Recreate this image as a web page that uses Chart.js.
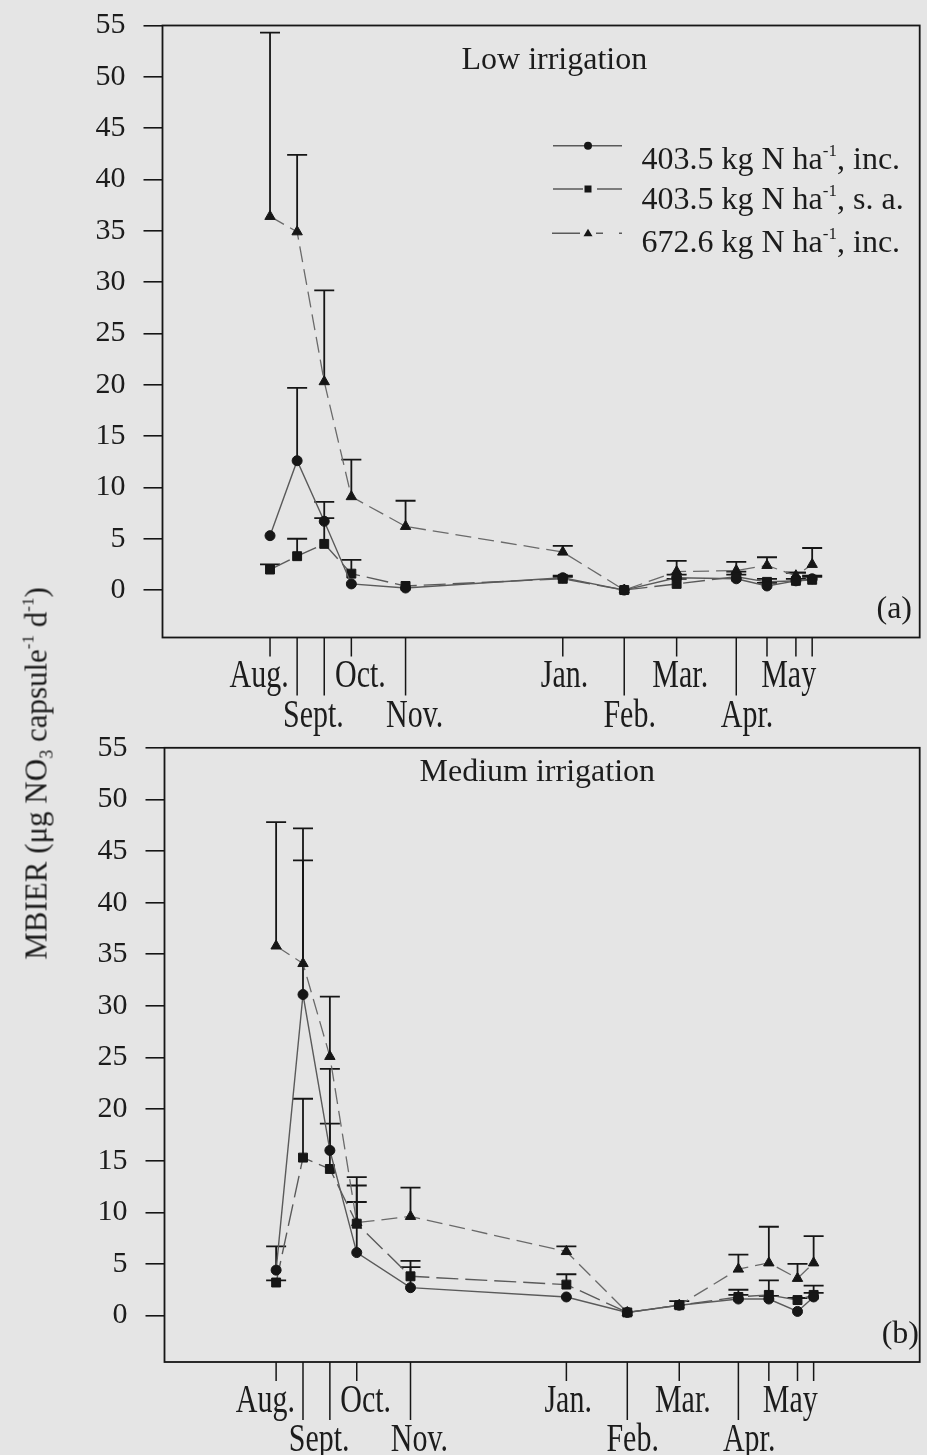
<!DOCTYPE html>
<html>
<head>
<meta charset="utf-8">
<script src="https://cdn.jsdelivr.net/npm/chart.js@4.4.1/dist/chart.umd.min.js"></script>
<style>
  html, body { margin: 0; padding: 0; }
  body { width: 927px; height: 1455px; background: #e5e5e5; overflow: hidden; }
  #page { position: relative; width: 927px; height: 1455px; }
  canvas { position: absolute; left: 0; }
  #low { top: 0; }
  #medium { top: 720px; }
  .txt {
    position: absolute; white-space: nowrap; color: #1c1c1c;
    font-family: "Liberation Serif", serif; font-size: 32px; line-height: 1;
  }
  .txt sup { font-size: 17px; line-height: 0; vertical-align: 13px; }
  .txt sub { font-size: 18px; line-height: 0; vertical-align: -6px; }
  #ytitle {
    left: -164.5px; top: 758px; width: 400px; height: 31px; font-size: 31px;
    text-align: center; transform: rotate(-90deg);
  }
</style>
</head>
<body>
<div id="page">
  <canvas id="low" width="927" height="740"></canvas>
  <canvas id="medium" width="927" height="735"></canvas>

  <div class="txt" style="left:461.5px; top:41.5px">Low irrigation</div>
  <div class="txt" style="left:419.5px; top:754px">Medium irrigation</div>
  <div class="txt" style="right:15px; top:591px">(a)</div>
  <div class="txt" style="right:8px; top:1316px">(b)</div>

  <div class="txt" style="left:641.5px; top:141.5px">403.5 kg N ha<sup>-1</sup>, inc.</div>
  <div class="txt" style="left:641.5px; top:181.5px">403.5 kg N ha<sup>-1</sup>, s. a.</div>
  <div class="txt" style="left:641.5px; top:225px">672.6 kg N ha<sup>-1</sup>, inc.</div>

  <div class="txt" id="ytitle">MBIER (μg NO<sub>3</sub> capsule<sup>-1</sup> d<sup>-1</sup>)</div>
</div>

<script>
// sampling dates, in days after the first August sampling
const sampleDays = [0, 15, 30, 45, 75, 162, 196, 225, 258, 275, 291, 300];
const longTicks = [false, true, true, false, true, false, true, false, true, false, false, false];

// month names under the axis, alternating between two rows
const monthLabels = ["Aug.", "Sept.", "Oct.", "Nov.", "Jan.", "Feb.", "Mar.", "Apr.", "May"];
const monthDays = [-6, 24, 50, 80, 163, 199, 227, 264, 287];
const monthRow = [0, 1, 0, 1, 0, 1, 0, 1, 0];

const yTicks = [0, 5, 10, 15, 20, 25, 30, 35, 40, 45, 50, 55];

// low irrigation: means and upper error
const lowInc = [5.3, 12.6, 6.7, 0.6, 0.2, 1.2, 0.0, 1.2, 1.1, 0.4, 0.9, 1.1];
const lowIncErr = [0, 7.1, 1.9, 0, 0, 0.2, 0, 0.3, 0.4, 0.3, 0.2, 0.3];
const lowSa = [2.0, 3.3, 4.5, 1.6, 0.4, 1.1, 0.0, 0.6, 1.3, 0.8, 0.9, 1.0];
const lowSaErr = [0.5, 1.7, 2.5, 1.35, 0, 0.2, 0, 0.5, 0.5, 0.3, 0.8, 0.3];
const lowHigh = [36.4, 34.9, 20.3, 9.1, 6.2, 3.7, 0.0, 1.8, 1.9, 2.4, 1.4, 2.5];
const lowHighErr = [17.9, 7.5, 8.9, 3.6, 2.5, 0.6, 0, 1.05, 0.85, 0.8, 0.3, 1.6];

// medium irrigation
const medInc = [4.4, 31.1, 16.0, 6.1, 2.7, 1.8, 0.3, 1.0, 1.6, 1.6, 0.4, 1.8];
const medIncErr = [2.3, 13.0, 7.9, 4.9, 2.0, 0, 0, 0, 0.4, 0.3, 0, 0.4];
const medSa = [3.2, 15.3, 14.2, 8.9, 3.8, 3.0, 0.3, 1.0, 1.8, 2.0, 1.5, 2.0];
const medSaErr = [0.2, 5.7, 4.4, 3.7, 1.5, 1.0, 0, 0.4, 0.7, 1.4, 0.2, 0.9];
const medHigh = [35.8, 34.1, 25.1, 9.0, 9.6, 6.2, 0.3, 1.0, 4.5, 5.1, 3.6, 5.1];
const medHighErr = [12.0, 13.1, 5.8, 4.4, 2.8, 0.5, 0, 0, 1.4, 3.5, 1.4, 2.6];

const INK = "#161616";
const SERIF = "Liberation Serif";

function points(values) {
  return sampleDays.map((d, i) => ({ x: d, y: values[i] }));
}

function makeDatasets(inc, incErr, sa, saErr, high, highErr) {
  return [
    {
      label: "403.5 kg N ha-1, inc.", data: points(inc), errTop: incErr,
      borderColor: "#5a5a5a", borderWidth: 1.4,
      pointStyle: "circle", pointRadius: 5
    },
    {
      label: "403.5 kg N ha-1, s. a.", data: points(sa), errTop: saErr,
      borderColor: "#5a5a5a", borderWidth: 1.4, borderDash: [22, 7],
      pointStyle: "rect", pointRadius: 6.3
    },
    {
      label: "672.6 kg N ha-1, inc.", data: points(high), errTop: highErr,
      borderColor: "#6a6a6a", borderWidth: 1.3, borderDash: [16, 7],
      pointStyle: "triangle", pointRadius: 6
    }
  ].map(ds => Object.assign(ds, {
    pointBackgroundColor: INK, pointBorderColor: INK, pointBorderWidth: 1,
    tension: 0, fill: false
  }));
}

// error bars, frame, date ticks and month names
const panelPlugin = {
  id: "panel",
  beforeDatasetsDraw(chart) {
    const { ctx } = chart;
    const xs = chart.scales.x, ys = chart.scales.y;
    ctx.save();
    ctx.strokeStyle = INK;
    ctx.lineWidth = 1.8;
    chart.data.datasets.forEach(ds => {
      ds.errTop.forEach((e, i) => {
        if (!e) return;
        const px = xs.getPixelForValue(ds.data[i].x);
        const y0 = ys.getPixelForValue(ds.data[i].y);
        const y1 = ys.getPixelForValue(ds.data[i].y + e);
        ctx.beginPath();
        ctx.moveTo(px, y0);
        ctx.lineTo(px, y1);
        ctx.moveTo(px - 10, y1);
        ctx.lineTo(px + 10, y1);
        ctx.stroke();
      });
    });
    ctx.restore();
  },
  afterDraw(chart) {
    const { ctx, chartArea: a } = chart;
    const xs = chart.scales.x;
    ctx.save();
    ctx.strokeStyle = INK;
    ctx.lineWidth = 1.8;
    ctx.strokeRect(a.left, a.top, a.right - a.left, a.bottom - a.top);

    ctx.lineWidth = 1.5;
    sampleDays.forEach((d, i) => {
      const px = xs.getPixelForValue(d);
      ctx.beginPath();
      ctx.moveTo(px, a.bottom);
      ctx.lineTo(px, a.bottom + (longTicks[i] ? 58 : 19));
      ctx.stroke();
    });

    ctx.fillStyle = "#1c1c1c";
    ctx.font = `30px "${SERIF}"`;
    ctx.textAlign = "center";
    ctx.textBaseline = "alphabetic";
    monthLabels.forEach((m, i) => {
      const px = xs.getPixelForValue(monthDays[i]);
      const base = a.bottom + (monthRow[i] ? 89 : 49.5);
      ctx.save();
      ctx.translate(px, base);
      ctx.scale(1, 1.3);
      ctx.fillText(m, 0, 0);
      ctx.restore();
    });

    if (chart.options.plugins.panel && chart.options.plugins.panel.legend) drawLegend(ctx);
    ctx.restore();
  }
};

function drawLegend(ctx) {
  const rows = [145.7, 189, 233.3];
  ctx.strokeStyle = "#5a5a5a";
  ctx.lineWidth = 1.4;
  ctx.setLineDash([]);
  ctx.beginPath();
  ctx.moveTo(553, rows[0]); ctx.lineTo(622, rows[0]);
  ctx.moveTo(553, rows[1]); ctx.lineTo(583, rows[1]);
  ctx.moveTo(597, rows[1]); ctx.lineTo(622, rows[1]);
  ctx.moveTo(552, rows[2]); ctx.lineTo(580, rows[2]);
  ctx.moveTo(596, rows[2]); ctx.lineTo(603, rows[2]);
  ctx.moveTo(619, rows[2]); ctx.lineTo(622, rows[2]);
  ctx.stroke();

  ctx.fillStyle = INK;
  ctx.beginPath();
  ctx.arc(588, rows[0], 4, 0, Math.PI * 2);
  ctx.fill();
  ctx.fillRect(584.5, rows[1] - 3.5, 7, 7);
  ctx.beginPath();
  ctx.moveTo(588, rows[2] - 4.5);
  ctx.lineTo(592.5, rows[2] + 3);
  ctx.lineTo(583.5, rows[2] + 3);
  ctx.closePath();
  ctx.fill();
}

function makeChart(id, datasets, box, legend) {
  return new Chart(document.getElementById(id), {
    type: "line",
    data: { datasets },
    options: {
      responsive: false,
      animation: false,
      devicePixelRatio: 1,
      layout: { padding: { top: box.top, bottom: box.bottom, left: 0, right: box.right } },
      plugins: { legend: { display: false }, tooltip: { enabled: false }, panel: { legend } },
      scales: {
        x: { type: "linear", min: box.xMin, max: box.xMax, display: false },
        y: {
          min: box.yMin, max: 55,
          afterBuildTicks: s => { s.ticks = yTicks.map(v => ({ value: v })); },
          afterFit: s => {
            // the label gap should not push the plot area down
            s.width = box.left;
            s.paddingTop = 0;
            s.paddingBottom = 0;
          },
          grid: { drawOnChartArea: false, tickLength: 19, color: INK, lineWidth: 1.6 },
          border: { display: false },
          ticks: { padding: 18, color: "#1c1c1c", font: { family: SERIF, size: 30 } }
        }
      }
    },
    plugins: [panelPlugin]
  });
}

makeChart("low", makeDatasets(lowInc, lowIncErr, lowSa, lowSaErr, lowHigh, lowHighErr),
  { top: 25.5, bottom: 102.5, left: 162.5, right: 6, xMin: -59.5, xMax: 359.5, yMin: -4.62 }, true);

makeChart("medium", makeDatasets(medInc, medIncErr, medSa, medSaErr, medHigh, medHighErr),
  { top: 27.8, bottom: 93, left: 164.5, right: 1, xMin: -62.3, xMax: 359.2, yMin: -4.5 }, false);
</script>
</body>
</html>
